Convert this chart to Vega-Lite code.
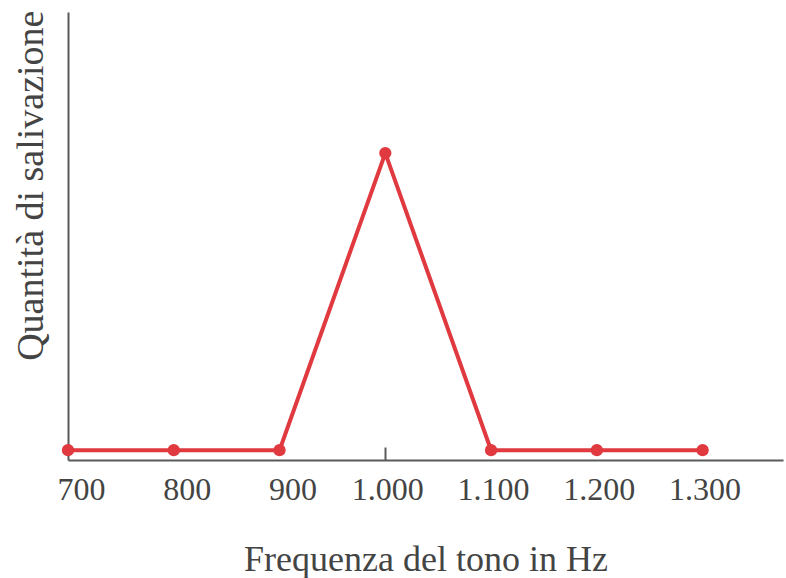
{
  "$schema": "https://vega.github.io/schema/vega-lite/v6.json",
  "autosize": "none",
  "width": 715,
  "height": 448,
  "padding": {"left": 68, "top": 12, "right": 3, "bottom": 118},
  "background": "white",
  "config": {"view": {"stroke": null}, "font": "Liberation Serif"},
  "data": {"values": [
    {"freq": 700, "saliv": 2.2},
    {"freq": 800, "saliv": 2.2},
    {"freq": 900, "saliv": 2.2},
    {"freq": 1000, "saliv": 68.5},
    {"freq": 1100, "saliv": 2.2},
    {"freq": 1200, "saliv": 2.2},
    {"freq": 1300, "saliv": 2.2}
  ]},
  "encoding": {
    "x": {"field": "freq", "type": "quantitative",
      "scale": {"domain": [700, 1376], "nice": false, "zero": false},
      "axis": {
        "title": "Frequenza del tono in Hz",
        "values": [700, 800, 900, 1000, 1100, 1200, 1300],
        "labelExpr": "replace(format(datum.value, ','), ',', '.')",
        "labelFont": "Liberation Serif", "labelFontSize": 32, "labelColor": "#444",
        "labelBaseline": "alphabetic", "labelPadding": 52, "labelFlush": false,
        "labelOffset": {"condition": {"test": "datum.value <= 900", "value": 13}, "value": 2},
        "titleFont": "Liberation Serif", "titleFontSize": 36, "titleFontWeight": "normal", "titleColor": "#444",
        "titleBaseline": "alphabetic", "titleY": 110,
        "domainColor": "#5a5a5a", "domainWidth": 2,
        "ticks": true, "tickSize": -13, "tickWidth": 2, "tickColor": "#5a5a5a",
        "tickOpacity": {"condition": {"test": "datum.value === 1000", "value": 1}, "value": 0},
        "grid": false
      }},
    "y": {"field": "saliv", "type": "quantitative",
      "scale": {"domain": [0, 100], "nice": false},
      "axis": {
        "title": "Quantità di salivazione",
        "labels": false, "ticks": false, "grid": false,
        "domainColor": "#5a5a5a", "domainWidth": 2,
        "titleFont": "Liberation Serif", "titleFontSize": 38, "titleFontWeight": "normal", "titleColor": "#444",
        "titleAnchor": "end", "titleAngle": -90, "titleAlign": "right",
        "titleBaseline": "alphabetic", "titleX": -26, "titleY": -2
      }}
  },
  "layer": [
    {"mark": {"type": "line", "color": "#e0393f", "strokeWidth": 4}},
    {"mark": {"type": "point", "filled": true, "color": "#e0393f", "opacity": 1, "size": 150}}
  ]
}
